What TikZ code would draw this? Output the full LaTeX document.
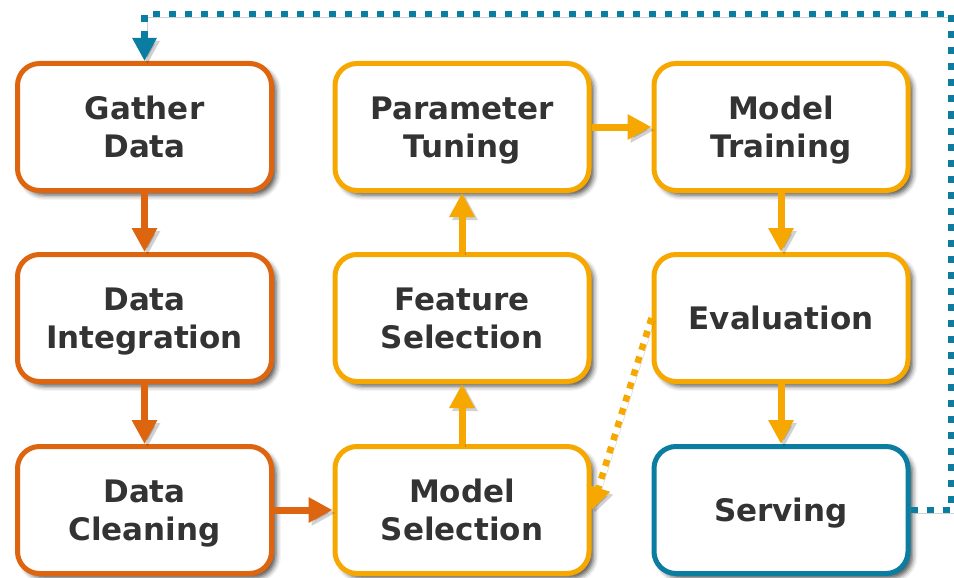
\documentclass[tikz,border=0pt]{standalone}
\usepackage{fontspec}
\setmainfont{DejaVu Sans}
\usetikzlibrary{arrows.meta,shadows.blur}
\definecolor{rust}{HTML}{DE650F}
\definecolor{amber}{HTML}{F6A800}
\definecolor{teal}{HTML}{0A7DA0}
\definecolor{ink}{HTML}{333333}
\tikzset{
  stagebox/.style={draw=#1, line width=5pt, rounded corners=22pt, fill=white,
    minimum width=254pt, minimum height=127pt, align=center, text=ink,
    text depth=0pt,
    font=\fontsize{31}{38}\selectfont\bfseries,
    blur shadow={shadow xshift=4.5pt, shadow yshift=-4.5pt, shadow blur radius=5pt, shadow opacity=70}},
  softshade/.style={preaction={draw=black, opacity=0.18, transform canvas={xshift=3pt, yshift=-3pt}}},
  flow/.style={draw=#1, line width=7pt, -{Triangle[length=24pt,width=24pt]}, #1, softshade},
  feedback/.style={draw=#1, line width=6.5pt, dash pattern=on 6.5pt off 7pt,
    -{Triangle[length=23pt,width=23pt]}, #1, softshade},
}
\begin{document}
\begin{tikzpicture}[x=1pt,y=-1pt]
\useasboundingbox (0,0) rectangle (954,578);
% first column: data preparation
\node[stagebox=rust] (gather) at (144.5,127) {Gather\\Data};
\node[stagebox=rust] (integ) at (144.5,318) {Data\\Integration};
\node[stagebox=rust] (clean) at (144.5,510) {Data\\Cleaning};
% second column: model design
\node[stagebox=amber] (tuning) at (462,127) {Parameter\\Tuning};
\node[stagebox=amber] (feat) at (462,318) {Feature\\Selection};
\node[stagebox=amber] (msel) at (462,510) {Model\\Selection};
% third column: training and deployment
\node[stagebox=amber] (train) at (781,127) {Model\\Training};
\node[stagebox=amber] (eval) at (781,318) {Evaluation};
\node[stagebox=teal] (serve) at (781,510) {Serving};
% main flow
\draw[flow=rust] (gather) -- (integ);
\draw[flow=rust] (integ) -- (clean);
\draw[flow=rust] (clean) -- (msel);
\draw[flow=amber] (msel) -- (feat);
\draw[flow=amber] (feat) -- (tuning);
\draw[flow=amber] (tuning) -- (train);
\draw[flow=amber] (train) -- (eval);
\draw[flow=amber] (eval) -- (serve);
% model selection feedback from evaluation
\draw[feedback=amber] (eval.west) -- (msel.east);
% serving loops back to data gathering
\coordinate (loopA) at (951,510);
\coordinate (loopB) at (951,14);
\draw[feedback=teal, dash pattern=on 7pt off 9pt]
  (serve.east) -- (loopA) -- (loopB) -- (gather.north |- loopB) -- (gather.north);
\end{tikzpicture}
\end{document}
